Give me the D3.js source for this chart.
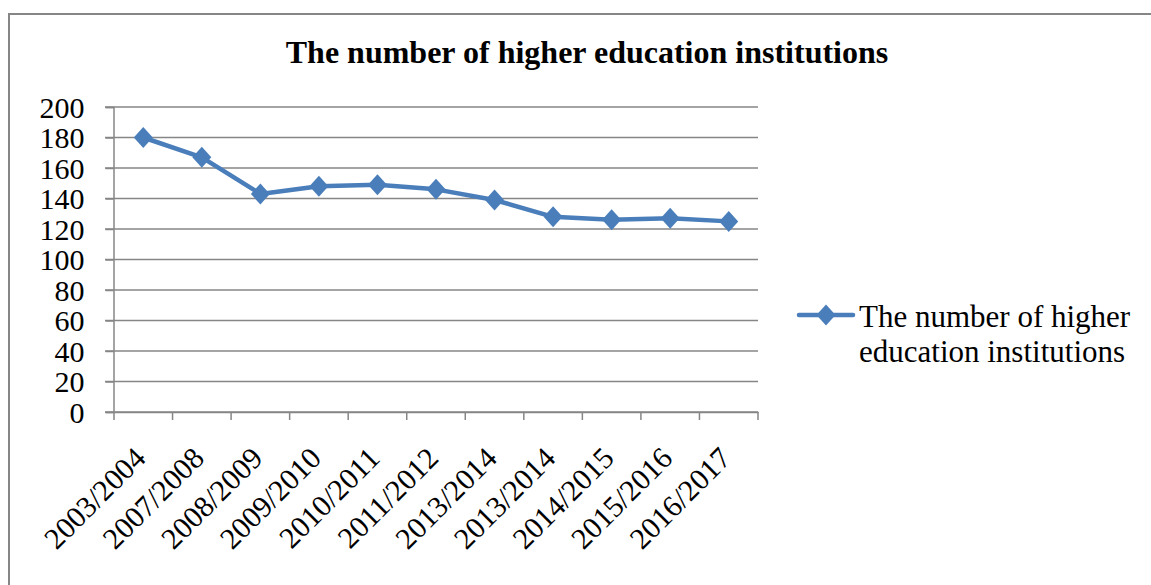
<!DOCTYPE html>
<html><head><meta charset="utf-8">
<script src="https://cdn.jsdelivr.net/npm/d3@7"></script>
<style>body{margin:0;background:#fff;} svg{display:block;}</style>
</head><body>
<svg id="chart" width="1151" height="585"></svg>
<script>
const categories = ["2003/2004","2007/2008","2008/2009","2009/2010","2010/2011","2011/2012","2013/2014","2013/2014 ","2014/2015","2015/2016","2016/2017"];
const values = [180, 167, 143, 148, 149, 146, 139, 128, 126, 127, 125];
const yTicks = [0, 20, 40, 60, 80, 100, 120, 140, 160, 180, 200];
const seriesName = "The number of higher education institutions";
const legendLines = ["The number of higher", "education institutions"];

const svg = d3.select("#chart");
const font = "'Liberation Serif','Times New Roman',serif";
const grid = "#868686";
const blue = "#4a7ebb";

// frame
svg.append("rect").attr("x", 9).attr("y", 14).attr("width", 1160).attr("height", 600)
  .attr("fill", "none").attr("stroke", grid).attr("stroke-width", 2);

const x = d3.scaleBand().domain(categories).range([114, 758]);
const y = d3.scaleLinear().domain([0, 200]).range([412, 107]);

// title
svg.append("text").attr("x", 587).attr("y", 63).attr("text-anchor", "middle")
  .style("font-family", font).style("font-weight", "bold").style("font-size", "32px")
  .text(seriesName);

// grid lines
svg.append("g").selectAll("line").data(yTicks).join("line")
  .attr("x1", 105).attr("x2", 758).attr("y1", d => y(d)).attr("y2", d => y(d))
  .attr("stroke", grid).attr("stroke-width", 1.5);

// y axis
const yAxis = svg.append("g").attr("transform", "translate(113.5,0)")
  .call(d3.axisLeft(y).tickValues(yTicks).tickSize(8).tickPadding(21));
yAxis.select(".domain").attr("stroke", grid).attr("stroke-width", 1.5);
yAxis.selectAll(".tick line").attr("stroke", grid).attr("stroke-width", 1.5);
yAxis.selectAll(".tick text").style("font-family", font).style("font-size", "30px").attr("fill", "#000").attr("dy", "0.34em");

// x axis
const xAxis = svg.append("g").attr("transform", "translate(0,412)")
  .call(d3.axisBottom(x).tickSize(0).tickFormat(d => d.trim()));
xAxis.select(".domain").attr("stroke", grid).attr("stroke-width", 1.5);
xAxis.selectAll(".tick text")
  .style("font-family", font).style("font-size", "30px").attr("fill", "#000")
  .attr("text-anchor", "end").attr("dy", 0).attr("y", 0)
  .attr("transform", "translate(4,48) rotate(-45)");
// boundary ticks
const bounds = categories.map(c => x(c)).concat([x(categories[categories.length-1]) + x.bandwidth()]);
svg.append("g").selectAll("line").data(bounds).join("line")
  .attr("x1", d => d).attr("x2", d => d).attr("y1", 412).attr("y2", 420)
  .attr("stroke", grid).attr("stroke-width", 1.5);

// line
const cx = (d, i) => x(categories[i]) + x.bandwidth() / 2;
svg.append("path").datum(values)
  .attr("d", d3.line().x(cx).y(d => y(d)))
  .attr("fill", "none").attr("stroke", blue).attr("stroke-width", 4.5).attr("stroke-linejoin", "round");
svg.append("g").selectAll("path").data(values).join("path")
  .attr("d", "M0,-10.5L9.5,0L0,10.5L-9.5,0Z")
  .attr("transform", (d, i) => `translate(${cx(d, i)},${y(d)})`)
  .attr("fill", blue);

// legend
svg.append("line").attr("x1", 799).attr("x2", 853).attr("y1", 315).attr("y2", 315)
  .attr("stroke", blue).attr("stroke-width", 4.5).attr("stroke-linecap", "round");
svg.append("path").attr("d", "M0,-10.5L9.5,0L0,10.5L-9.5,0Z").attr("transform", "translate(826,315)").attr("fill", blue);
svg.append("text").attr("x", 859).attr("y", 327)
  .style("font-family", font).style("font-size", "31px")
  .selectAll("tspan").data(legendLines).join("tspan")
  .attr("x", 859).attr("dy", (d, i) => i === 0 ? 0 : 35).text(d => d);
</script>
</body></html>
